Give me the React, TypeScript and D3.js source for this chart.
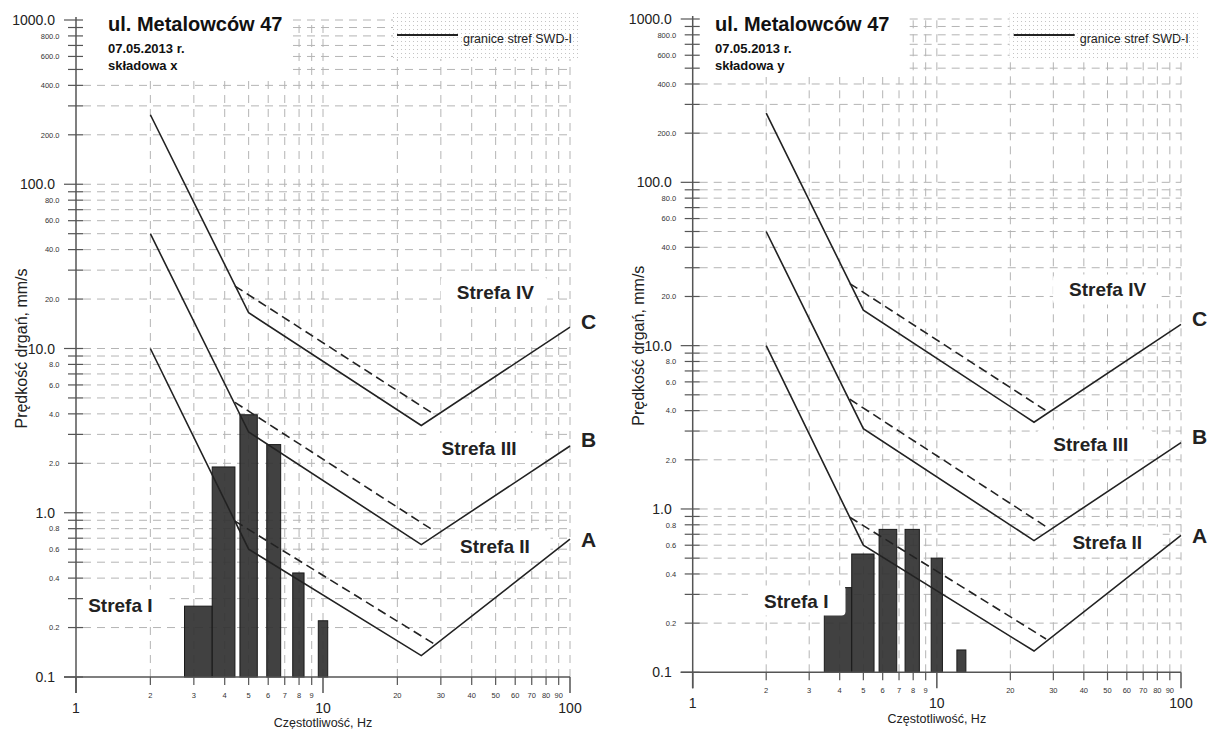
import React from 'react';
import * as d3 from 'd3';

const FONT = '"Liberation Sans", Arial, Helvetica, sans-serif';

// granice stref SWD-I: [frequency Hz, velocity mm/s]
const lineA: [number, number][] = [[2, 10], [5, 0.6], [25, 0.135], [100, 0.69]];
const lineB: [number, number][] = [[2, 50], [5, 3.1], [25, 0.64], [100, 2.55]];
const lineC: [number, number][] = [[2, 265], [5, 16.5], [25, 3.4], [100, 13.5]];
const dashA: [number, number][] = [[4.4, 0.89], [28, 0.16]];
const dashB: [number, number][] = [[4.4, 4.7], [28, 0.78]];
const dashC: [number, number][] = [[4.4, 24], [28, 4.0]];

// spectrum bars: [f from, f to, velocity]
const barsX: [number, number, number][] = [
  [2.75, 3.56, 0.27], [3.56, 4.4, 1.9], [4.61, 5.42, 3.95],
  [5.92, 6.74, 2.6], [7.54, 8.38, 0.43], [9.57, 10.45, 0.22],
];
const barsY: [number, number, number][] = [
  [3.46, 4.48, 0.33], [4.48, 5.53, 0.53], [5.8, 6.85, 0.75],
  [7.41, 8.48, 0.75], [9.48, 10.54, 0.5], [12.08, 13.15, 0.137],
];

const yMajorTicks = [0.1, 1, 10, 100, 1000];
const yLabelledMinor = [0.2, 0.4, 0.6, 0.8, 2, 4, 6, 8, 20, 40, 60, 80, 200, 400, 600, 800];
const xMajorTicks = [1, 10, 100];
const xLabelledMinor = [2, 3, 4, 5, 6, 7, 8, 9, 20, 30, 40, 50, 60, 70, 80, 90];

const zoneNames = ['Strefa I', 'Strefa II', 'Strefa III', 'Strefa IV'];
const zonePosX: [number, number][] = [[1.12, 0.25], [35.9, 0.571], [30.2, 2.25], [34.8, 20]];
const zonePosY: [number, number][] = [[1.96, 0.249], [35.9, 0.571], [30, 2.25], [34.8, 20]];
const lineNames = ['A', 'B', 'C'];
const lineLabelValues = [0.617, 2.5, 13.1];

const TITLE = 'ul. Metalowców 47';
const DATE = '07.05.2013 r.';
const LEGEND = 'granice stref SWD-I';

interface PanelSpec {
  x0: number; x1: number; yTop: number; yBot: number; titleX: number;
  comp: string; bars: [number, number, number][]; zones: [number, number][];
}

const panels: PanelSpec[] = [
  { x0: 76, x1: 570, yTop: 20, yBot: 677, titleX: 108, comp: 'składowa x', bars: barsX, zones: zonePosX },
  { x0: 692.7, x1: 1181, yTop: 19, yBot: 672.3, titleX: 715, comp: 'składowa y', bars: barsY, zones: zonePosY },
];

const near = (arr: number[], v: number) => arr.some(a => Math.abs(a - v) / a < 1e-6);

const Panel: React.FC<{ p: PanelSpec }> = ({ p }) => {
  const x = d3.scaleLog().domain([1, 100]).range([p.x0, p.x1]);
  const y = d3.scaleLog().domain([0.1, 1000]).range([p.yBot, p.yTop]);
  const xt = x.ticks();
  const yt = y.ticks();
  const line = d3.line<[number, number]>().x(d => x(d[0])).y(d => y(d[1]));
  const grid = '#b4b4b4';
  const ink = '#222';

  return (
    <g fontFamily={FONT}>
      {/* grid */}
      {xt.filter(t => t > 1.001).map(t => (
        <line key={'gx' + t} x1={x(t)} x2={x(t)} y1={p.yBot} y2={p.yTop}
          stroke={grid} strokeDasharray="8 6" />
      ))}
      {yt.filter(t => t > 0.1001).map(t => (
        <line key={'gy' + t} x1={p.x0 + 7} x2={p.x1} y1={y(t)} y2={y(t)}
          stroke={grid} strokeDasharray="8 6" />
      ))}

      {/* title box */}
      <rect x={p.x0 + 7} y={0} width={208} height={77} fill="#fff" />
      <text x={p.titleX} y={31} fontSize={20} fontWeight="bold" fill="#111">{TITLE}</text>
      <text x={p.titleX} y={53} fontSize={13} fontWeight="bold" fill="#111">{DATE}</text>
      <text x={p.titleX} y={70} fontSize={13} fontWeight="bold" fill="#111">{p.comp}</text>

      {/* legend */}
      <rect x={p.x0 + 317} y={13} width={188} height={46} fill="#fff" />
      <rect x={p.x0 + 317} y={13} width={188} height={46} fill="url(#dots)" />
      <line x1={p.x0 + 321} x2={p.x0 + 382} y1={35} y2={35} stroke={ink} strokeWidth={2} />
      <text x={p.x0 + 387} y={43} fontSize={12.5} fill="#222">{LEGEND}</text>

      {/* bars */}
      {p.bars.map((b, i) => (
        <rect key={'b' + i} x={x(b[0])} y={y(b[2])} width={x(b[1]) - x(b[0])}
          height={p.yBot - y(b[2])} fill="#333" fillOpacity={0.93} stroke="#1a1a1a" strokeWidth={1} />
      ))}

      {/* zone labels */}
      {zoneNames.map((n, i) => {
        const tx = x(p.zones[i][0]);
        const ty = y(p.zones[i][1]);
        const w = n.length * 0.47 * 19;
        return (
          <g key={n}>
            <rect x={tx - 16} y={ty - 22} width={w + 26} height={30} rx={4} fill="#fff" />
            <text x={tx} y={ty} fontSize={19} fontWeight="bold" fill={ink}>{n}</text>
          </g>
        );
      })}

      {/* boundary lines */}
      {[lineA, lineB, lineC].map((d, i) => (
        <path key={'l' + i} d={line(d) || ''} fill="none" stroke={ink} strokeWidth={1.6} />
      ))}
      {[dashA, dashB, dashC].map((d, i) => (
        <path key={'d' + i} d={line(d) || ''} fill="none" stroke={ink} strokeWidth={1.6} strokeDasharray="9 5" />
      ))}
      {lineNames.map((n, i) => (
        <text key={n} x={p.x1 + 11} y={y(lineLabelValues[i])} fontSize={21} fontWeight="bold" fill={ink}>{n}</text>
      ))}

      {/* y axis */}
      <line x1={p.x0} x2={p.x0} y1={p.yTop - 3} y2={p.yBot + 16} stroke="#555" strokeWidth={1.5} />
      {yt.map(t => {
        const major = near(yMajorTicks, t);
        return (
          <line key={'ty' + t} x1={p.x0 - (major ? 12 : 8)} x2={p.x0 + 7} y1={y(t)} y2={y(t)}
            stroke="#555" strokeWidth={1.2} />
        );
      })}
      {yMajorTicks.map(t => (
        <text key={'ly' + t} x={p.x0 - 21} y={y(t)} dy="0.36em" textAnchor="end" fontSize={14} fill="#222">
          {t.toFixed(1)}
        </text>
      ))}
      {yLabelledMinor.map(t => (
        <text key={'lym' + t} x={p.x0 - 16.5} y={y(t)} dy="0.36em" textAnchor="end" fontSize={7.5} fill="#333">
          {t.toFixed(1)}
        </text>
      ))}
      <text transform={`translate(${p.x0 - 49},${(p.yTop + p.yBot) / 2}) rotate(-90)`}
        textAnchor="middle" fontSize={16} fill="#222">Prędkość drgań, mm/s</text>

      {/* x axis */}
      <line x1={p.x0 - 12} x2={p.x1} y1={p.yBot} y2={p.yBot} stroke="#555" strokeWidth={1.5} />
      {xt.map(t => {
        const major = near(xMajorTicks, t);
        return (
          <line key={'tx' + t} x1={x(t)} x2={x(t)} y1={p.yBot} y2={p.yBot + (major ? 16 : 8)}
            stroke="#555" strokeWidth={major ? 1.5 : 1.2} />
        );
      })}
      {xLabelledMinor.map(t => (
        <text key={'lx' + t} x={x(t)} y={p.yBot + 21} textAnchor="middle" fontSize={7.5} fill="#333">{t}</text>
      ))}
      {xMajorTicks.map(t => (
        <text key={'lxM' + t} x={x(t)} y={p.yBot + 36} textAnchor="middle" fontSize={14} fill="#222">{t}</text>
      ))}
      <text x={x(10)} y={Math.min(p.yBot + 51, 727)} textAnchor="middle" fontSize={12.5} fill="#222">
        Częstotliwość, Hz
      </text>
    </g>
  );
};

export default function App() {
  return (
    <div style={{ position: 'absolute', left: 0, top: 0, width: 1209, height: 729, background: '#fff' }}>
      <svg width={1209} height={729} viewBox="0 0 1209 729">
        <defs>
          <pattern id="dots" width={4} height={4} patternUnits="userSpaceOnUse">
            <rect x={1} y={1} width={1} height={1} fill="#c4c4c4" />
          </pattern>
        </defs>
        <rect width={1209} height={729} fill="#fff" />
        {panels.map((p, i) => <Panel key={i} p={p} />)}
      </svg>
    </div>
  );
}
